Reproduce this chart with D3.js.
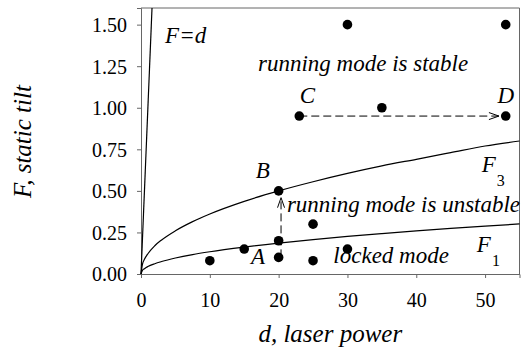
<!DOCTYPE html>
<html>
<head>
<meta charset="utf-8">
<script src="https://cdn.jsdelivr.net/npm/d3@7"></script>
<style>
  html, body { margin: 0; padding: 0; background: #fff; }
  svg { display: block; }
  text { font-family: "Liberation Serif", "Times New Roman", serif; fill: #000; }
</style>
</head>
<body>
<svg id="chart" width="521" height="352"></svg>
<script>
// ---- data ----
const xTicks = [0, 10, 20, 30, 40, 50];
const yTicks = [0, 0.25, 0.5, 0.75, 1.0, 1.25, 1.5];

// experimental points (d, F)
const pointD = [30, 53, 23, 35, 53, 20, 25, 20, 15, 10, 20, 25, 30];
const pointF = [1.5, 1.5, 0.95, 1.0, 0.95, 0.5, 0.3, 0.2, 0.15, 0.08, 0.1, 0.08, 0.15];

// boundary curves
const curveD  = [0, 0.2, 0.5, 1, 2, 3, 5, 7.5, 10, 15, 20, 25, 30, 35, 40, 45, 50, 55];
const curveF3 = [0, 0.057, 0.088, 0.122, 0.17, 0.205, 0.26, 0.315, 0.361, 0.437, 0.5, 0.555, 0.605, 0.65, 0.69, 0.73, 0.77, 0.80];
const curveF1 = [0, 0.021, 0.032, 0.045, 0.062, 0.075, 0.096, 0.117, 0.134, 0.162, 0.186, 0.207, 0.226, 0.243, 0.259, 0.274, 0.288, 0.301];
const lineFdD = [0, 1.6];
const lineFdF = [0, 1.6];

// dashed arrows: from (d,F) to (d,F)
const arrowFrom = [[23, 0.95], [20.35, 0.1]];
const arrowTo   = [[53, 0.95], [20.35, 0.5]];

// annotations in data coordinates
const annotText = ["F=d", "running mode is stable", "C", "D", "B", "running mode is unstable", "A", "locked mode"];
const annotD    = [3.5, 17.0, 24.2, 53.0, 17.7, 21.2, 17.0, 27.95];
const annotF    = [1.39, 1.219, 1.028, 1.028, 0.578, 0.373, 0.06, 0.064];
const annotAnchor = ["start", "start", "middle", "middle", "middle", "start", "middle", "start"];

const subLabels = [{main: "F", sub: "3", d: 49.5, f: 0.616}, {main: "F", sub: "1", d: 48.8, f: 0.134}];

// ---- layout ----
const svg = d3.select("#chart");
const mLeft = 141, mRight = 519.5, mTop = 8, mBottom = 274;

const x = d3.scaleLinear().domain([0, 55]).range([mLeft, mRight]);
const y = d3.scaleLinear().domain([0, 1.6]).range([mBottom, mTop]);

// frame (top and right)
svg.append("path")
  .attr("d", `M${mLeft},${mTop}H${mRight}V${mBottom}`)
  .attr("fill", "none").attr("stroke", "#666").attr("stroke-width", 1);

// axes
const gx = svg.append("g").attr("transform", `translate(0,${mBottom})`)
  .call(d3.axisBottom(x).tickValues(xTicks).tickSize(4).tickFormat(d3.format("d")));
gx.selectAll("text").attr("y", 32.7).attr("dy", 0).style("font-size", "20px");

const gy = svg.append("g").attr("transform", `translate(${mLeft},0)`)
  .call(d3.axisLeft(y).tickValues(yTicks).tickSize(4).tickPadding(10).tickFormat(d3.format(".2f")));
gy.selectAll("text").style("font-size", "20px").attr("dy", "0.34em");

[gx, gy].forEach(g => {
  g.attr("font-family", "Liberation Serif");
  g.select(".domain").attr("stroke", "#666");
  g.selectAll(".tick line").attr("stroke", "#666");
  g.selectAll("text").style("font-family", "'Liberation Serif', serif").attr("fill", "#000");
});

// curves
const line = d3.line().x(d => x(d[0])).y(d => y(d[1])).curve(d3.curveMonotoneX);
const curves = [
  curveD.map((d, i) => [d, curveF3[i]]),
  curveD.map((d, i) => [d, curveF1[i]]),
  lineFdD.map((d, i) => [d, lineFdF[i]])
];
svg.append("g").selectAll("path").data(curves).join("path")
  .attr("d", line).attr("fill", "none").attr("stroke", "#000").attr("stroke-width", 1.2);

// dashed arrows
const r = 4.8;
arrowFrom.forEach((a, i) => {
  const b = arrowTo[i];
  const x1 = x(a[0]), y1 = y(a[1]), x2 = x(b[0]), y2 = y(b[1]);
  const len = Math.hypot(x2 - x1, y2 - y1);
  const ux = (x2 - x1) / len, uy = (y2 - y1) / len;
  const tx = x2 - ux * (r + 2), ty = y2 - uy * (r + 2);
  svg.append("line")
    .attr("x1", x1).attr("y1", y1).attr("x2", tx).attr("y2", ty)
    .attr("stroke", "#000").attr("stroke-width", 1).attr("stroke-dasharray", "8,4");
  const hl = 10, hw = 3.5;
  const px = -uy, py = ux;
  svg.append("path")
    .attr("d", `M${tx - ux * hl + px * hw},${ty - uy * hl + py * hw}L${tx},${ty}L${tx - ux * hl - px * hw},${ty - uy * hl - py * hw}`)
    .attr("fill", "none").attr("stroke", "#000").attr("stroke-width", 1);
});

// points
svg.append("g").selectAll("circle").data(pointD.map((d, i) => [d, pointF[i]])).join("circle")
  .attr("cx", d => x(d[0])).attr("cy", d => y(d[1])).attr("r", r).attr("fill", "#000");

// annotations
svg.append("g").selectAll("text").data(annotText).join("text")
  .attr("x", (t, i) => x(annotD[i])).attr("y", (t, i) => y(annotF[i]))
  .attr("text-anchor", (t, i) => annotAnchor[i])
  .style("font-family", "'Liberation Serif', serif")
  .style("font-size", "23px").style("font-style", "italic")
  .text(t => t);

subLabels.forEach(s => {
  const t = svg.append("text").attr("x", x(s.d)).attr("y", y(s.f))
    .style("font-family", "'Liberation Serif', serif")
    .style("font-size", "23px").style("font-style", "italic");
  t.append("tspan").text(s.main);
  t.append("tspan").attr("dy", 14).attr("dx", 1).style("font-size", "16px").style("font-style", "normal").text(s.sub);
});

// axis titles
svg.append("text").attr("x", (mLeft + mRight) / 2).attr("y", 341.7)
  .attr("text-anchor", "middle").style("font-family", "'Liberation Serif', serif")
  .style("font-size", "25px").style("font-style", "italic")
  .text("d, laser power");
svg.append("text").attr("transform", "translate(31,141.5) rotate(-90)")
  .attr("text-anchor", "middle").style("font-family", "'Liberation Serif', serif")
  .style("font-size", "25px").style("font-style", "italic")
  .text("F, static tilt");
</script>
</body>
</html>
